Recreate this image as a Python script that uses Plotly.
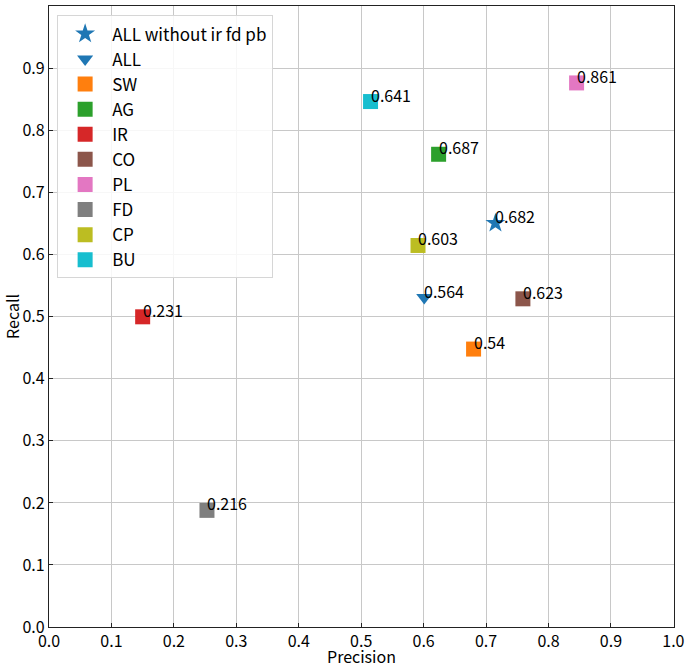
import plotly.graph_objects as go

# F1 labels shown next to each point
names = ['ALL without ir fd pb', 'ALL', 'SW', 'AG', 'IR', 'CO', 'PL', 'FD', 'CP', 'BU']
precision = [0.715, 0.601, 0.680, 0.624, 0.150, 0.759, 0.845, 0.253, 0.591, 0.515]
recall = [0.651, 0.531, 0.448, 0.762, 0.500, 0.529, 0.877, 0.188, 0.615, 0.847]
f1_labels = ['0.682', '0.564', '0.54', '0.687', '0.231', '0.623', '0.861', '0.216', '0.603', '0.641']

tick_vals = [0.0, 0.1, 0.2, 0.3, 0.4, 0.5, 0.6, 0.7, 0.8, 0.9, 1.0]
tick_text = ['0.0', '0.1', '0.2', '0.3', '0.4', '0.5', '0.6', '0.7', '0.8', '0.9', '1.0']

colors = ['#1f77b4', '#1f77b4', '#ff7f0e', '#2ca02c', '#d62728', '#8c564b',
          '#e377c2', '#7f7f7f', '#bcbd22', '#17becf']
symbols = ['star', 'triangle-down'] + ['square'] * 8
sizes = [15, 14] + [15] * 8

font = 'Noto Sans CJK JP'

fig = go.Figure()
for i in range(len(names)):
    fig.add_trace(go.Scatter(x=[precision[i]], y=[recall[i]],
                             mode='markers', name=names[i],
                             marker=dict(color=colors[i], symbol=symbols[i],
                                         size=sizes[i], line=dict(width=0))))
    fig.add_annotation(x=precision[i], y=recall[i], text=f1_labels[i],
                       showarrow=False, xanchor='left', yanchor='bottom',
                       xshift=-2, yshift=-7,
                       font=dict(family=font, size=16, color='black'))

# a hair past 1.0 so the last tick label is kept
axis_style = dict(range=[0, 1.001], tickvals=tick_vals, ticktext=tick_text,
                  showgrid=True, gridcolor='#c8c8c8', gridwidth=1,
                  zeroline=False, showline=True, linecolor='#222222', linewidth=1.3,
                  mirror=True, ticks='inside', ticklen=4, tickcolor='#222222',
                  automargin=False,
                  tickfont=dict(family=font, size=16, color='black'))

fig.update_layout(
    width=685, height=668,
    margin=dict(l=49, r=11, t=6, b=41),
    paper_bgcolor='white', plot_bgcolor='white',
    font=dict(family=font, size=16, color='black'),
    xaxis=dict(axis_style, title=dict(text='Precision',
                                      font=dict(family=font, size=16))),
    yaxis=dict(axis_style, title=dict(text='Recall',
                                      font=dict(family=font, size=16))),
    legend=dict(x=0.013, y=0.985, xanchor='left', yanchor='top',
                bgcolor='rgba(255,255,255,0.85)', bordercolor='#d6d6d6', borderwidth=1,
                font=dict(family=font, size=17), tracegroupgap=0, itemwidth=44),
    showlegend=True,
)

# drop the browser's default body margin so the figure sits at the page corner
fig.write_html("out.html", config={'displayModeBar': False},
               post_script="document.body.style.margin='0';")
